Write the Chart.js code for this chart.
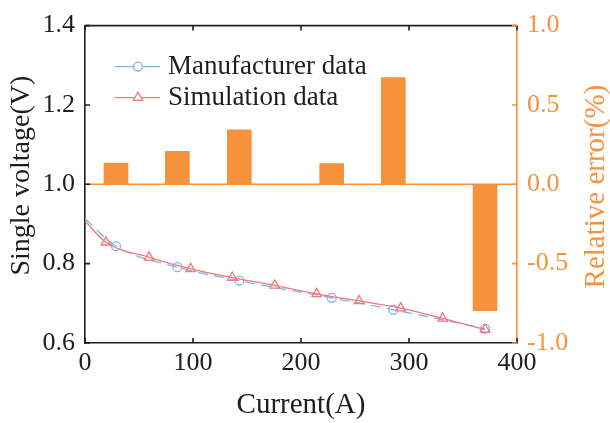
<!DOCTYPE html>
<html>
<head>
<meta charset="utf-8">
<script src="https://cdn.jsdelivr.net/npm/chart.js@4/dist/chart.umd.min.js"></script>
<style>
html,body{margin:0;padding:0;background:#fff;}
#wrap{width:610px;height:423px;position:relative;}
</style>
</head>
<body>
<div id="wrap"><canvas id="c" width="610" height="423"></canvas></div>
<script>
// ---- data ----
const mfrCurrent = [0, 28.7, 85.5, 142.9, 228.4, 285.5, 370.4];
const mfrVoltage = [0.913, 0.844, 0.791, 0.757, 0.714, 0.684, 0.636];
const simCurrent = [0, 19.4, 59.3, 97.8, 136.4, 175.6, 214.5, 253.7, 292.3, 331.2, 370.4];
const simVoltage = [0.907, 0.854, 0.816, 0.787, 0.765, 0.745, 0.724, 0.706, 0.688, 0.662, 0.634];
const errCurrent = [28.7, 85.5, 142.9, 228.4, 285.5, 370.4];
const relError = [0.134, 0.208, 0.344, 0.131, 0.673, -0.796];
const xTicks = [0, 100, 200, 300, 400];
const yTicks = [0.6, 0.8, 1.0, 1.2, 1.4];
const y1Ticks = [-1.0, -0.5, 0.0, 0.5, 1.0];
const seriesNames = ['Manufacturer data', 'Simulation data'];
const yTitle = 'Single voltage(V)';
const y1Title = 'Relative error(%)';
const xTitle = 'Current(A)';

const BLUE = '#7db7e6';
const RED = '#f27979';
const ORANGE = '#f6923c';
const DARK = '#1e1e1e';
const FONT = "'Liberation Serif', 'Times New Roman', serif";

const toXY = (xs, ys) => xs.map((x, i) => ({x: x, y: ys[i]}));

const framePlugin = {
  id: 'frame',
  beforeDatasetsDraw(chart) {
    const {ctx, chartArea: a, scales} = chart;
    const y0 = scales.y1.getPixelForValue(0);
    ctx.save();
    ctx.strokeStyle = ORANGE;
    ctx.lineWidth = 1.5;
    ctx.beginPath();
    ctx.moveTo(a.left, y0);
    ctx.lineTo(a.right, y0);
    ctx.stroke();
    ctx.restore();
  },
  afterDraw(chart) {
    const {ctx, chartArea: a, scales} = chart;
    const L = 5;
    ctx.save();
    ctx.lineWidth = 1.6;
    // top border
    ctx.strokeStyle = DARK;
    ctx.beginPath();
    ctx.moveTo(a.left, a.top);
    ctx.lineTo(a.right, a.top);
    ctx.stroke();
    // x ticks inward (bottom and top)
    ctx.beginPath();
    xTicks.forEach(v => {
      const px = scales.x.getPixelForValue(v);
      ctx.moveTo(px, a.bottom); ctx.lineTo(px, a.bottom - L);
      ctx.moveTo(px, a.top); ctx.lineTo(px, a.top + L);
    });
    // left y ticks inward
    yTicks.forEach(v => {
      const py = scales.y.getPixelForValue(v);
      ctx.moveTo(a.left, py); ctx.lineTo(a.left + L, py);
    });
    ctx.stroke();
    // right y1 ticks inward
    ctx.strokeStyle = ORANGE;
    ctx.beginPath();
    y1Ticks.forEach(v => {
      const py = scales.y1.getPixelForValue(v);
      ctx.moveTo(a.right, py); ctx.lineTo(a.right - L, py);
    });
    ctx.stroke();

    // vertical axis titles (both read bottom-to-top)
    ctx.textAlign = 'center';
    ctx.textBaseline = 'middle';
    ctx.font = '28px ' + FONT;
    ctx.fillStyle = DARK;
    ctx.save();
    ctx.translate(22, a.top + 150);
    ctx.rotate(-Math.PI / 2);
    ctx.fillText(yTitle, 0, 0);
    ctx.restore();
    ctx.font = '29px ' + FONT;
    ctx.fillStyle = ORANGE;
    ctx.save();
    ctx.translate(a.right + 79, a.top + 161);
    ctx.rotate(-Math.PI / 2);
    ctx.fillText(y1Title, 0, 0);
    ctx.restore();

    // legend
    const items = [
      {name: seriesNames[0], color: BLUE, style: 'circle'},
      {name: seriesNames[1], color: RED, style: 'triangle'}
    ];
    items.forEach((it, i) => {
      const y = a.top + 41 + i * 31;
      const x0 = a.left + 30, x1 = a.left + 75;
      const cx = a.left + 53;
      ctx.strokeStyle = it.color;
      ctx.lineWidth = 1.3;
      ctx.beginPath();
      ctx.moveTo(x0, y); ctx.lineTo(x1, y);
      ctx.stroke();
      ctx.fillStyle = '#fff';
      ctx.beginPath();
      if (it.style === 'circle') {
        ctx.arc(cx, y, 4.5, 0, Math.PI * 2);
      } else {
        const r = 5.5;
        ctx.moveTo(cx, y - r);
        ctx.lineTo(cx + r * 0.866, y + r * 0.5);
        ctx.lineTo(cx - r * 0.866, y + r * 0.5);
        ctx.closePath();
      }
      ctx.fill();
      ctx.stroke();
      ctx.fillStyle = DARK;
      ctx.font = '27px ' + FONT;
      ctx.textBaseline = 'middle';
      ctx.textAlign = 'left';
      ctx.fillText(it.name, a.left + 83, y);
    });
    ctx.restore();
  }
};

new Chart(document.getElementById('c'), {
  type: 'bar',
  data: {
    datasets: [
      {
        type: 'line',
        label: seriesNames[0],
        data: toXY(mfrCurrent, mfrVoltage),
        yAxisID: 'y',
        borderColor: BLUE,
        borderWidth: 1.3,
        borderDash: [10, 6],
        pointStyle: 'circle',
        pointRadius: mfrCurrent.map((v, i) => i === 0 ? 0 : 4.5),
        pointBorderColor: BLUE,
        pointBackgroundColor: 'rgba(255,255,255,0)',
        pointBorderWidth: 1.3,
        cubicInterpolationMode: 'monotone',
        order: 2
      },
      {
        type: 'line',
        label: seriesNames[1],
        data: toXY(simCurrent, simVoltage),
        yAxisID: 'y',
        borderColor: RED,
        borderWidth: 1.3,
        pointStyle: 'triangle',
        pointRadius: simCurrent.map((v, i) => i === 0 ? 0 : 5.5),
        pointBorderColor: RED,
        pointBackgroundColor: 'rgba(255,255,255,0)',
        pointBorderWidth: 1.3,
        cubicInterpolationMode: 'monotone',
        order: 1
      },
      {
        type: 'bar',
        label: 'Relative error',
        data: toXY(errCurrent, relError),
        yAxisID: 'y1',
        backgroundColor: ORANGE,
        borderWidth: 0,
        barThickness: 24,
        order: 3
      }
    ]
  },
  options: {
    responsive: false,
    animation: false,
    events: [],
    layout: {padding: {top: 19, left: 0, right: 0, bottom: 0}},
    plugins: {legend: {display: false}, tooltip: {enabled: false}},
    scales: {
      x: {
        type: 'linear',
        position: 'bottom',
        min: 0, max: 400,
        offset: false,
        afterBuildTicks: s => { s.ticks = xTicks.map(v => ({value: v})); },
        afterFit: s => { s.height = 80; },
        grid: {display: false, drawTicks: false},
        border: {display: true, color: DARK, width: 1.6},
        ticks: {color: DARK, font: {family: FONT, size: 26}, padding: 5, maxRotation: 0, autoSkip: false,
                callback: v => String(v)},
        title: {display: true, text: xTitle, color: DARK, font: {family: FONT, size: 29, lineHeight: 1.2}, padding: {top: 0, bottom: 0}}
      },
      y: {
        type: 'linear',
        position: 'left',
        min: 0.6, max: 1.4,
        afterBuildTicks: s => { s.ticks = yTicks.map(v => ({value: v})); },
        afterFit: s => { s.width = 85; },
        grid: {display: false, drawTicks: false},
        border: {display: true, color: DARK, width: 1.6},
        ticks: {color: DARK, font: {family: FONT, size: 26}, padding: 10, callback: v => Number(v).toFixed(1)}
      },
      y1: {
        type: 'linear',
        position: 'right',
        min: -1, max: 1,
        afterBuildTicks: s => { s.ticks = y1Ticks.map(v => ({value: v})); },
        afterFit: s => { s.width = 93; },
        grid: {display: false, drawTicks: false},
        border: {display: true, color: ORANGE, width: 1.6},
        ticks: {color: ORANGE, font: {family: FONT, size: 26}, padding: 10, callback: v => Number(v).toFixed(1)}
      }
    }
  },
  plugins: [framePlugin]
});
</script>
</body>
</html>
